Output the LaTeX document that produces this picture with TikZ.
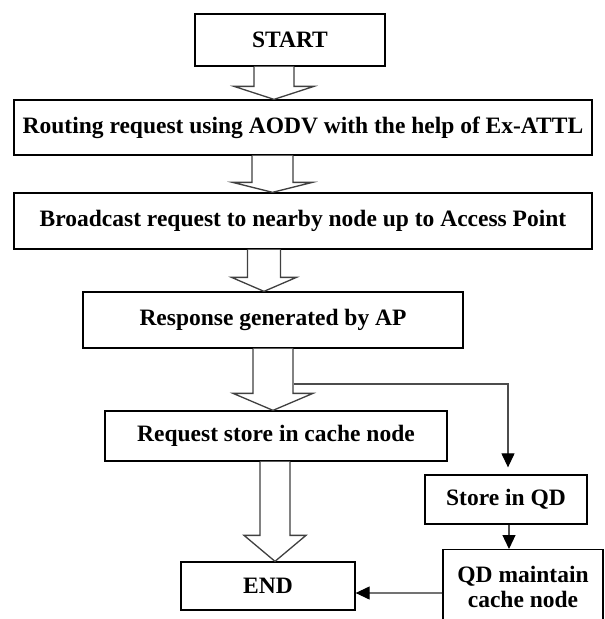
\documentclass[tikz,border=0pt]{standalone}
\usepackage{fontspec}
\setmainfont{Liberation Serif}
\usetikzlibrary{arrows.meta,calc}
\tikzset{
  boxnode/.style={draw=black, line width=1.3pt, rectangle, inner sep=0pt,
    font=\bfseries\fontsize{23.5}{25}\selectfont, text=black},
  hollowarrow/.style={draw=black!75, fill=white, line width=1.3pt, line join=miter},
  thinarr/.style={draw=black!70, line width=1.2pt,
    -{Triangle[length=14pt,width=13pt,color=black,fill=black]}},
}
% #1 from node, #2 to node, #3 centre x, #4 shaft half width, #5 head half width, #6 head length
\newcommand\hollowarr[6]{%
  \coordinate (hb) at ($(#2.north)+(0,-#6)$);
  \draw[hollowarrow]
    ({#3-#4},0 |- #1.south) -- ({#3-#4},0 |- hb)
    -- ({#3-#5},0 |- hb)
    -- (#3,0 |- #2.north)
    -- ({#3+#5},0 |- hb)
    -- ({#3+#4},0 |- hb)
    -- ({#3+#4},0 |- #1.south);}
\begin{document}
\begin{tikzpicture}[x=1pt,y=-1pt]
\path[use as bounding box] (0,0) rectangle (605,619);
\clip (0,0) rectangle (605,619);
\fill[white] (0,0) rectangle (605,619);

\node[boxnode, minimum width=190pt, minimum height=52pt] (start) at (290,40) {START};
\node[boxnode, minimum width=578pt, minimum height=55pt] (route) at (303,127.5)
  {Routing request using AODV with the help of Ex-ATTL};
\node[boxnode, minimum width=578pt, minimum height=56pt] (bcast) at (303,221)
  {Broadcast request to nearby node up to Access Point};
\node[boxnode, minimum width=380pt, minimum height=56pt] (resp) at (273,320)
  {Response generated by AP};
\node[boxnode, minimum width=342pt, minimum height=50pt] (req) at (276,436)
  {Request store in cache node};
\node[boxnode, minimum width=162pt, minimum height=49pt] (qd) at (506,499.5)
  {Store in QD};
\node[boxnode, minimum width=174pt, minimum height=48pt] (end) at (268,586)
  {END};
\node[boxnode, minimum width=160pt, minimum height=75pt, anchor=north, align=center] (qdm) at (523,549)
  {QD maintain\\cache node};

\hollowarr{start}{route}{274}{20}{40}{13}
\hollowarr{route}{bcast}{272.5}{20.5}{40}{10}
\hollowarr{bcast}{resp}{264}{16.5}{32.5}{14}
\hollowarr{resp}{req}{273}{20}{40}{17}
\hollowarr{req}{end}{275}{15}{31}{26}

\coordinate (br) at (294,384);
\draw[thinarr, shorten >=7pt] (br) -| ([xshift=2pt]qd.north);
\draw[thinarr] ([xshift=3pt]qd.south) -- ([xshift=3pt]qd.south |- qdm.north);
\draw[thinarr, draw=black!55] (qdm.west |- 0,593) -- (end.east |- 0,593);
\end{tikzpicture}
\end{document}
